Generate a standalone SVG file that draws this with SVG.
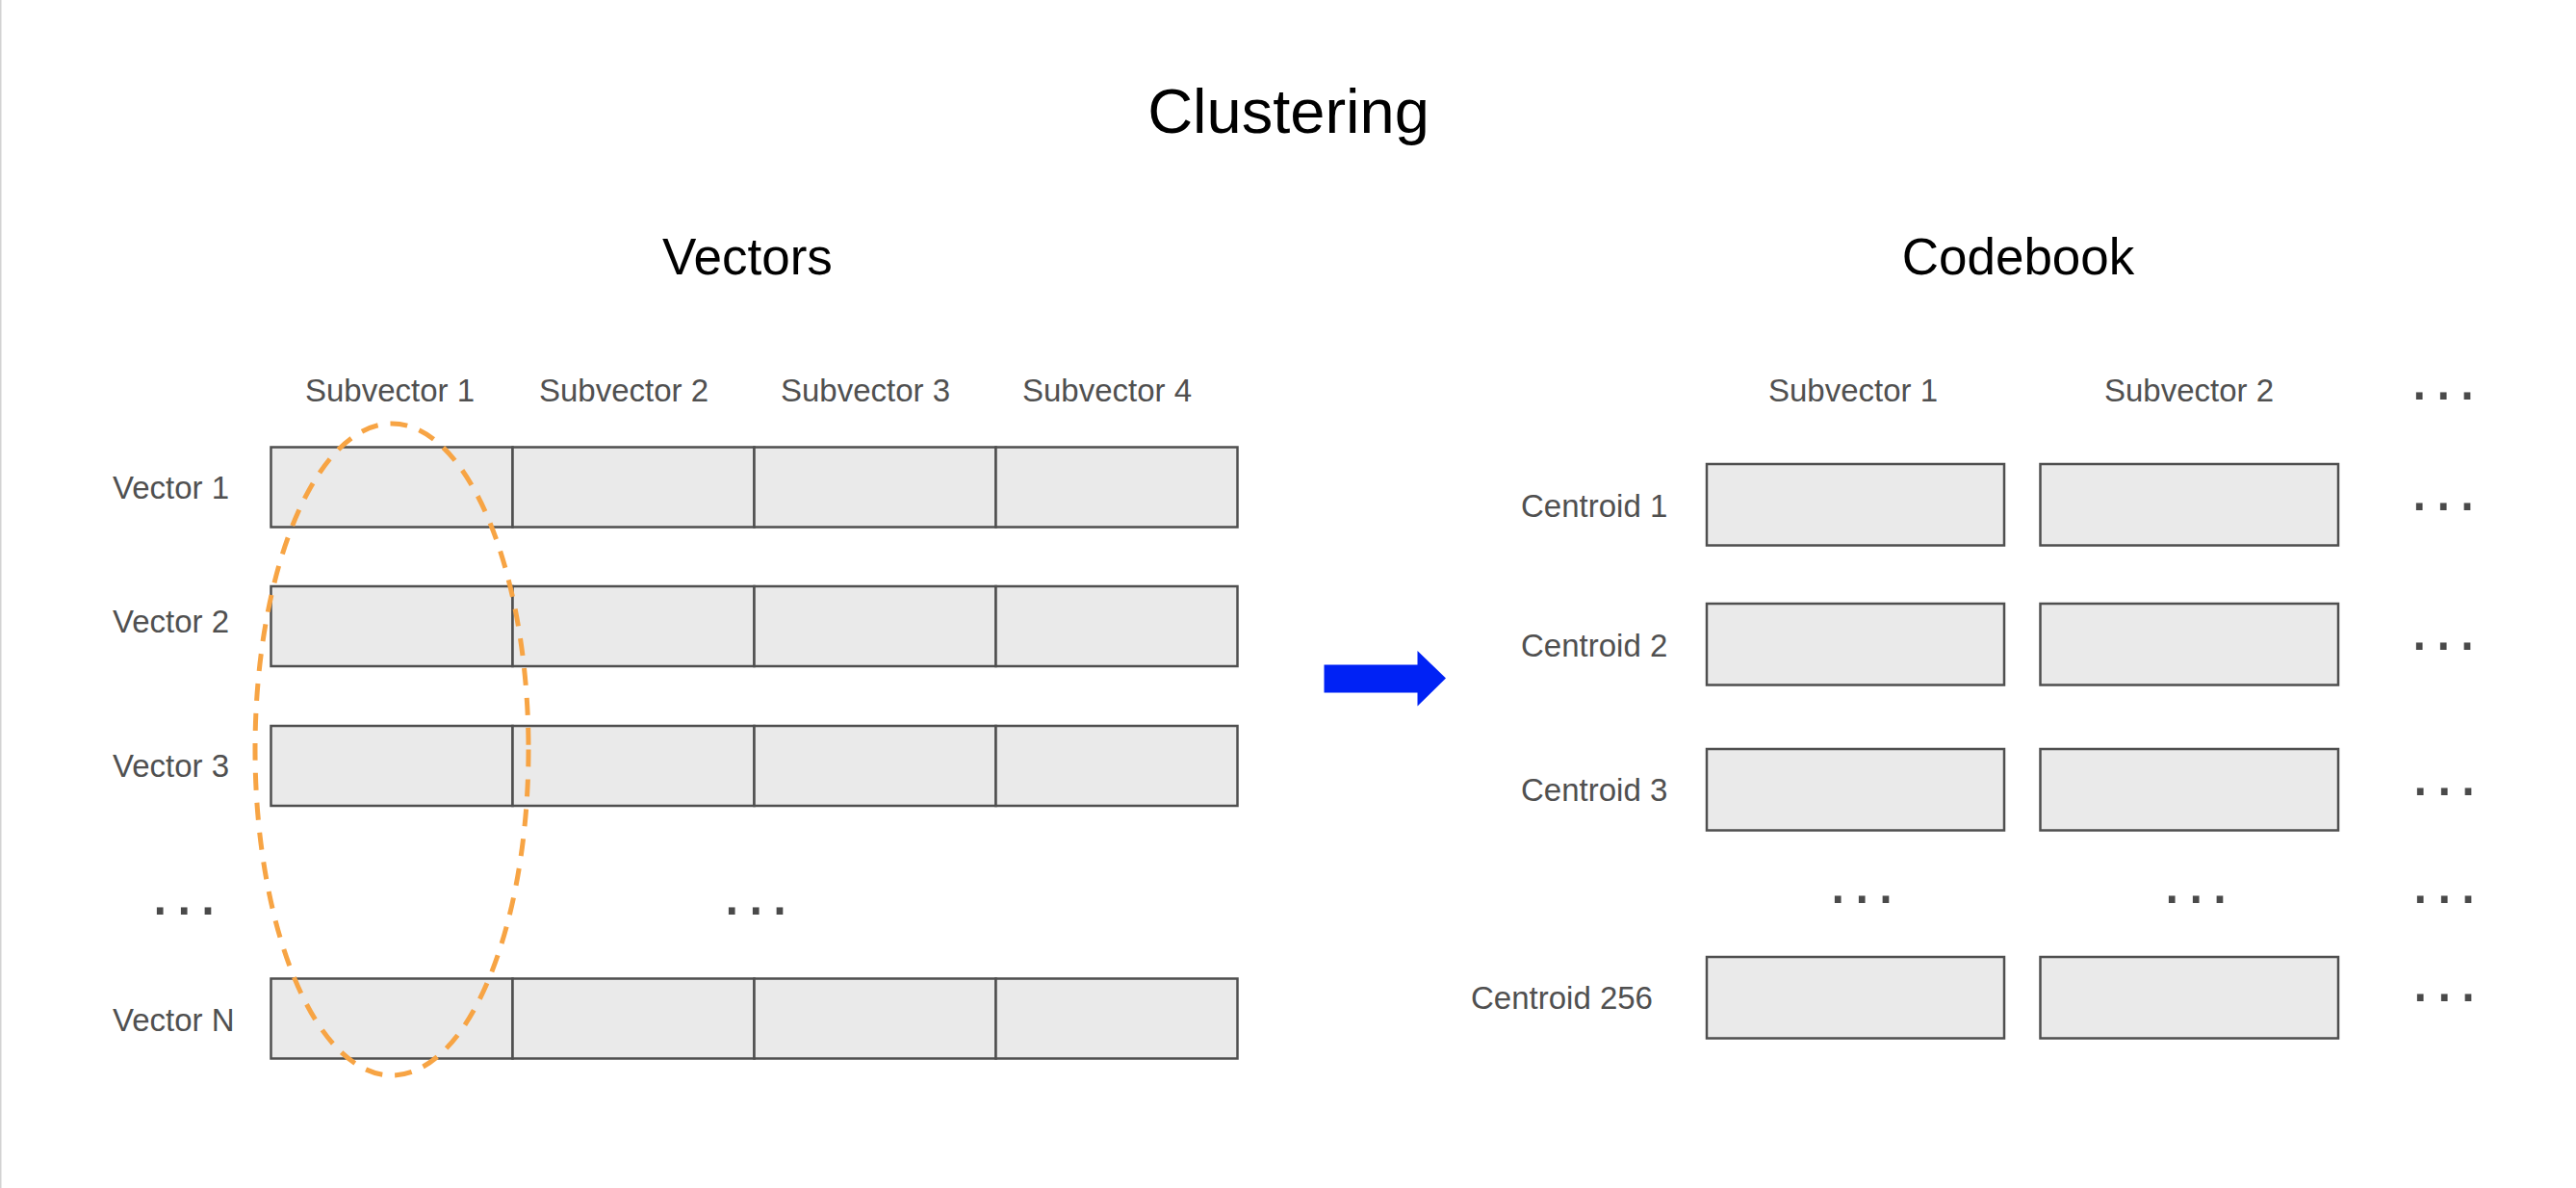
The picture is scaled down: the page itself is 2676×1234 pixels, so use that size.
<svg xmlns="http://www.w3.org/2000/svg" width="2676" height="1234" viewBox="0 0 2676 1234">
<style>
.title{font-family:"Liberation Sans",Arial,sans-serif;fill:#000}
.lbl{font-family:"Liberation Sans",Arial,sans-serif;font-size:33px;fill:#505050}
.dots{font-family:"Liberation Sans",Arial,sans-serif;font-size:70px;fill:#4a4a4a;letter-spacing:5.4px}
.cell{fill:#eaeaea;stroke:#4f4f4f;stroke-width:2.5}
.sel{fill:none;stroke:#f7a444;stroke-width:5;stroke-dasharray:18 13}
</style>
<rect x="0" y="0" width="2676" height="1234" fill="#ffffff"/>
<rect x="0" y="0" width="1.5" height="1234" fill="#d3d3d3"/>

<text class="title" x="1338.5" y="137.5" font-size="65" text-anchor="middle">Clustering</text>
<text class="title" x="776.5" y="285" font-size="53" text-anchor="middle">Vectors</text>
<text class="title" x="2096.5" y="285" font-size="53" text-anchor="middle">Codebook</text>

<g id="vector-headers">
<text class="lbl" x="405" y="417" text-anchor="middle">Subvector 1</text>
<text class="lbl" x="648" y="417" text-anchor="middle">Subvector 2</text>
<text class="lbl" x="899" y="417" text-anchor="middle">Subvector 3</text>
<text class="lbl" x="1150" y="417" text-anchor="middle">Subvector 4</text>
</g>

<g id="vector-1">
<text class="lbl" x="117" y="517.5">Vector 1</text>
<rect class="cell" x="281.5" y="464.5" width="251" height="83"/>
<rect class="cell" x="532.5" y="464.5" width="251" height="83"/>
<rect class="cell" x="783.5" y="464.5" width="251" height="83"/>
<rect class="cell" x="1034.5" y="464.5" width="251" height="83"/>
</g>
<g id="vector-2">
<text class="lbl" x="117" y="657">Vector 2</text>
<rect class="cell" x="281.5" y="609" width="251" height="83"/>
<rect class="cell" x="532.5" y="609" width="251" height="83"/>
<rect class="cell" x="783.5" y="609" width="251" height="83"/>
<rect class="cell" x="1034.5" y="609" width="251" height="83"/>
</g>
<g id="vector-3">
<text class="lbl" x="117" y="807">Vector 3</text>
<rect class="cell" x="281.5" y="754" width="251" height="83"/>
<rect class="cell" x="532.5" y="754" width="251" height="83"/>
<rect class="cell" x="783.5" y="754" width="251" height="83"/>
<rect class="cell" x="1034.5" y="754" width="251" height="83"/>
</g>
<g id="vector-ellipsis">
<text class="dots" x="156.6" y="950">...</text>
<text class="dots" x="750.6" y="950">...</text>
</g>
<g id="vector-n">
<text class="lbl" x="117" y="1071">Vector N</text>
<rect class="cell" x="281.5" y="1016.5" width="251" height="83"/>
<rect class="cell" x="532.5" y="1016.5" width="251" height="83"/>
<rect class="cell" x="783.5" y="1016.5" width="251" height="83"/>
<rect class="cell" x="1034.5" y="1016.5" width="251" height="83"/>
</g>

<g id="subvector-selection">
<ellipse class="sel" cx="407" cy="778.5" rx="142" ry="338.5"/>
</g>

<g id="connectors">
<polygon points="1375.5,690.5 1472.5,690.5 1472.5,676 1502,704.5 1472.5,733.5 1472.5,719.5 1375.5,719.5" fill="#0022f5"/>
</g>

<g id="codebook-headers">
<text class="lbl" x="1925" y="417" text-anchor="middle">Subvector 1</text>
<text class="lbl" x="2274" y="417" text-anchor="middle">Subvector 2</text>
<text class="dots" x="2503.6" y="415">...</text>
</g>

<g id="centroid-1">
<text class="lbl" x="1580" y="536.5">Centroid 1</text>
<rect class="cell" x="1773" y="482" width="309" height="84.5"/>
<rect class="cell" x="2119.5" y="482" width="309.5" height="84.5"/>
<text class="dots" x="2503.6" y="530">...</text>
</g>
<g id="centroid-2">
<text class="lbl" x="1580" y="681.5">Centroid 2</text>
<rect class="cell" x="1773" y="627" width="309" height="84.5"/>
<rect class="cell" x="2119.5" y="627" width="309.5" height="84.5"/>
<text class="dots" x="2503.6" y="675">...</text>
</g>
<g id="centroid-3">
<text class="lbl" x="1580" y="832">Centroid 3</text>
<rect class="cell" x="1773" y="778" width="309" height="84.5"/>
<rect class="cell" x="2119.5" y="778" width="309.5" height="84.5"/>
<text class="dots" x="2504.6" y="826">...</text>
</g>
<g id="centroid-ellipsis">
<text class="dots" x="1899.6" y="937.7">...</text>
<text class="dots" x="2246.6" y="937.7">...</text>
<text class="dots" x="2504.6" y="937.7">...</text>
</g>
<g id="centroid-256">
<text class="lbl" x="1528" y="1048">Centroid 256</text>
<rect class="cell" x="1773" y="994" width="309" height="84.5"/>
<rect class="cell" x="2119.5" y="994" width="309.5" height="84.5"/>
<text class="dots" x="2504.6" y="1040">...</text>
</g>
</svg>
